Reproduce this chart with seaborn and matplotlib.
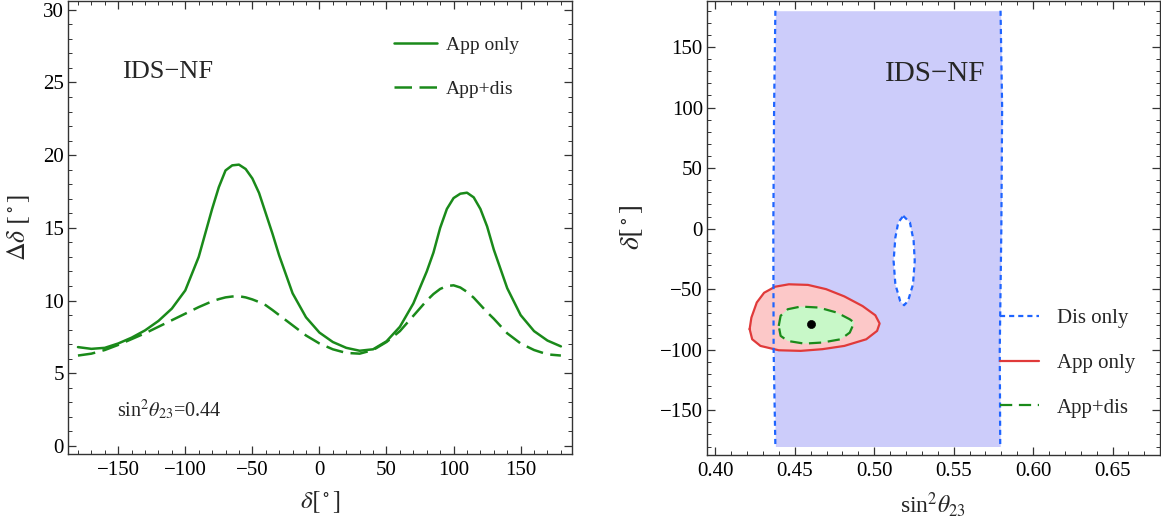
import numpy as np
import matplotlib
matplotlib.use("Agg")
import matplotlib.pyplot as plt
import seaborn as sns
from matplotlib.ticker import MultipleLocator, FormatStrFormatter

# ---- data ----
# left panel: error on delta vs true delta
delta = [-180, -170, -160, -150, -140, -130, -120, -110, -100, -90, -80, -75, -70, -65,
         -60, -55, -50, -45, -40, -35, -30, -20, -10, 0, 10, 20, 30, 40, 50, 60, 70,
         80, 85, 90, 95, 100, 105, 110, 115, 120, 125, 130, 140, 150, 160, 170, 180]
dd_app = [6.8, 6.68, 6.75, 7.05, 7.45, 7.95, 8.6, 9.45, 10.7, 13.0, 16.3, 17.8, 18.95, 19.3,
          19.35, 19.05, 18.4, 17.4, 16.0, 14.6, 13.1, 10.5, 8.85, 7.8, 7.15, 6.75, 6.55, 6.65,
          7.2, 8.2, 9.8, 12.0, 13.3, 15.0, 16.3, 17.05, 17.35, 17.42, 17.1, 16.3, 15.1, 13.5,
          10.85, 9.0, 7.9, 7.25, 6.85]
dd_appdis = [6.22, 6.35, 6.6, 6.95, 7.35, 7.75, 8.2, 8.65, 9.1, 9.55, 9.95, 10.1, 10.22, 10.28,
             10.3, 10.22, 10.08, 9.9, 9.68, 9.35, 9.0, 8.3, 7.6, 7.05, 6.65, 6.4, 6.35, 6.6,
             7.15, 7.9, 8.95, 10.0, 10.45, 10.8, 11.0, 11.05, 10.9, 10.6, 10.2, 9.7, 9.2, 8.75,
             7.75, 7.05, 6.6, 6.3, 6.22]

# right panel: allowed regions in (sin^2 theta23, delta)
dis_y = [180, 100, 0, -100, -180]
dis_left_x = [0.4378, 0.4370, 0.4365, 0.4367, 0.4378]
dis_right_x = [0.5795, 0.5805, 0.5800, 0.5790, 0.5793]
hole_x = [0.5183, 0.5225, 0.5248, 0.5255, 0.5244, 0.5213, 0.5188, 0.5163, 0.5133, 0.5122,
          0.5133, 0.5151, 0.5183]
hole_y = [10.5, 5, -10.2, -26.7, -46, -59.7, -63.3, -59.7, -46, -26.7, -7.4, 5, 10.5]
app_x = [0.4216, 0.4227, 0.4261, 0.4307, 0.4376, 0.4463, 0.4583, 0.4697, 0.4812, 0.4927,
         0.5007, 0.5034, 0.5018, 0.4950, 0.4812, 0.4674, 0.4537, 0.4399, 0.4284, 0.4232, 0.4216]
app_y = [-83, -73.5, -61, -53, -48, -46, -46.5, -50, -56, -64, -71.6, -78.4, -84.5, -91.4,
         -96.9, -99.6, -101, -100.5, -96.9, -91.4, -83]
appdis_x = [0.4399, 0.4411, 0.4456, 0.4537, 0.4651, 0.4766, 0.4846, 0.4874, 0.4846, 0.4789,
            0.4674, 0.4560, 0.4456, 0.4411, 0.4399]
appdis_y = [-80.4, -72, -66.6, -64.4, -65.2, -69.4, -74.9, -77.6, -85.9, -91.4, -94.1, -95,
            -92.8, -88.6, -80.4]
best_x = [0.46]
best_y = [-79]

# ---- style ----
sns.set_theme(style="ticks")
plt.rcParams['font.family'] = ['Liberation Serif', 'DejaVu Serif']
plt.rcParams['font.serif'] = ['Liberation Serif', 'DejaVu Serif']
plt.rcParams['mathtext.fontset'] = 'stix'
plt.rcParams['axes.unicode_minus'] = True

GREEN = '#1a8a1a'
BLUE = '#1e64ff'
RED = '#e03a3a'
SERIF = ['Liberation Serif', 'DejaVu Serif']

fig = plt.figure(figsize=(11.61, 5.22), dpi=100)
ax1 = fig.add_axes([0.0586, 0.1303, 0.4341, 0.8677])
ax2 = fig.add_axes([0.6090, 0.1284, 0.3898, 0.8696])


def mma_ticks(ax, xmaj, xmin, ymaj, ymin):
    ax.xaxis.set_major_locator(MultipleLocator(xmaj))
    ax.xaxis.set_minor_locator(MultipleLocator(xmin))
    ax.yaxis.set_major_locator(MultipleLocator(ymaj))
    ax.yaxis.set_minor_locator(MultipleLocator(ymin))
    ax.tick_params(which='both', direction='in', top=True, right=True, colors='#333333',
                   labelcolor='black', labelsize=15)
    ax.tick_params(which='major', length=5.5, width=0.9)
    ax.tick_params(which='minor', length=2.8, width=0.7)
    ax.tick_params(axis='x', pad=5)
    ax.tick_params(axis='y', pad=3)
    for s in ax.spines.values():
        s.set_color('#333333')
        s.set_linewidth(1.0)


# ------------------ left panel ------------------
sns.lineplot(x=delta, y=dd_app, ax=ax1, color=GREEN, lw=1.8, label='App only',
             sort=False, estimator=None)
sns.lineplot(x=delta, y=dd_appdis, ax=ax1, color=GREEN, lw=1.8, label='App+dis',
             sort=False, estimator=None, linestyle=(0, (7, 3)))
ax1.set_xlim(-187.4, 188.3)
ax1.set_ylim(-0.55, 30.6)
mma_ticks(ax1, 50, 10, 5, 1)
ax1.set_xlabel(r'$\delta[^\circ]$', fontsize=18)
ax1.set_ylabel(r'$\Delta\delta\ [^\circ]$', fontsize=18.5)
ax1.xaxis.set_label_coords(0.5, -0.078)
ax1.yaxis.set_label_coords(-0.071, 0.5)
ax1.text(-147, 25.7, 'IDS\u2212NF', fontsize=19, ha='left', va='center')
ax1.text(-151, 2.5, r'$\mathregular{sin}^2\theta_{23}$=0.44', fontsize=14.5, ha='left', va='center')
ax1.legend(loc='upper left', bbox_to_anchor=(0.647, 0.923), frameon=False, fontsize=14,
           handlelength=2.2, handletextpad=0.46, labelspacing=1.38, borderpad=0,
           borderaxespad=0)

# ------------------ right panel ------------------
ax2.fill_betweenx(dis_y, dis_left_x, dis_right_x, color='#ccccfa', lw=0, zorder=1)
ax2.fill(hole_x, hole_y, color='white', lw=0, zorder=1.5)
ax2.fill(app_x, app_y, color='#fcc8c8', lw=0, zorder=2)
ax2.fill(appdis_x, appdis_y, color='#c8f8c8', lw=0, zorder=2.5)

sns.lineplot(x=dis_left_x, y=dis_y, ax=ax2, color=BLUE, lw=1.6, sort=False, estimator=None,
             linestyle=(0, (2.3, 1.8)), label='Dis only', zorder=4)
sns.lineplot(x=dis_right_x, y=dis_y, ax=ax2, color=BLUE, lw=1.6, sort=False, estimator=None,
             linestyle=(0, (2.3, 1.8)), zorder=4)
sns.lineplot(x=hole_x, y=hole_y, ax=ax2, color=BLUE, lw=1.6, sort=False, estimator=None,
             linestyle=(0, (2.3, 1.8)), zorder=4)
sns.lineplot(x=app_x, y=app_y, ax=ax2, color=RED, lw=1.6, sort=False, estimator=None,
             label='App only', zorder=3)
sns.lineplot(x=appdis_x, y=appdis_y, ax=ax2, color=GREEN, lw=1.6, sort=False, estimator=None,
             linestyle=(0, (5.5, 3)), label='App+dis', zorder=3.5)
sns.scatterplot(x=best_x, y=best_y, ax=ax2, color='black', s=34, edgecolor='black', zorder=5)

ax2.set_xlim(0.3948, 0.6796)
ax2.set_ylim(-187, 188)
mma_ticks(ax2, 0.05, 0.01, 50, 10)
ax2.xaxis.set_major_formatter(FormatStrFormatter('%.2f'))
ax2.set_xlabel(r'$\mathregular{sin}^2\theta_{23}$', fontsize=17)
ax2.set_ylabel(r'$\delta[^\circ]$', fontsize=20)
ax2.xaxis.set_label_coords(0.5, -0.078)
ax2.yaxis.set_label_coords(-0.137, 0.5)
ax2.text(0.507, 128, 'IDS\u2212NF', fontsize=21, ha='left', va='center')
ax2.legend(loc='upper left', bbox_to_anchor=(0.6475, 0.3225), frameon=False, fontsize=15,
           handlelength=1.875, handletextpad=0.87, labelspacing=1.21, borderpad=0,
           borderaxespad=0)

for ax in (ax1, ax2):
    for lab in ax.get_xticklabels() + ax.get_yticklabels():
        lab.set_fontfamily(SERIF)

fig.savefig('out.png', dpi=100)
